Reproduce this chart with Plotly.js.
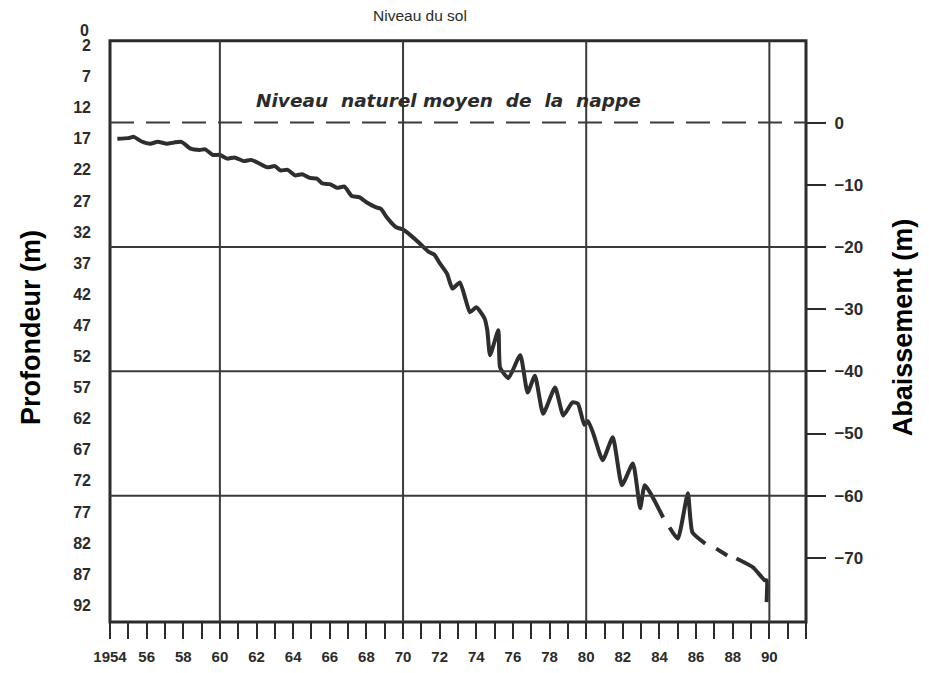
<!DOCTYPE html>
<html>
<head>
<meta charset="utf-8">
<script src="https://cdn.plot.ly/plotly-3.0.1.min.js"></script>
<style>html,body{margin:0;padding:0;background:#fff;}#chart{width:929px;height:673px;}</style>
</head>
<body>
<div id="chart"></div>
<script>
// ---- data ----
var years = [1954.4, 1955.0, 1955.3, 1955.7, 1956.2, 1956.6, 1957.1, 1957.5, 1957.9, 1958.4, 1958.9, 1959.2, 1959.6, 1960.0, 1960.4, 1960.8, 1961.3, 1961.7, 1962.1, 1962.6, 1963.0, 1963.3, 1963.7, 1964.1, 1964.5, 1964.9, 1965.3, 1965.6, 1966.0, 1966.4, 1966.8, 1967.2, 1967.6, 1968.0, 1968.5, 1968.8, 1969.1, 1969.6, 1970.0, 1970.4, 1970.9, 1971.4, 1971.7, 1972.0, 1972.4, 1972.7, 1973.1, 1973.4, 1973.65, 1974.0, 1974.45, 1974.6, 1974.75, 1975.2, 1975.3, 1975.75, 1976.4, 1976.8, 1977.2, 1977.65, 1978.3, 1978.75, 1979.25, 1979.55, 1979.9, 1980.1, 1980.4, 1980.9, 1981.45, 1981.95, 1982.55, 1982.95, 1983.2, 1984.2, null, 1984.55, 1985.0, 1985.55, 1985.8, 1986.5, null, 1987.1, 1987.7, null, 1988.2, 1989.1, 1989.75, 1989.85, 1989.85];
var depth = [17.0, 16.9, 16.7, 17.4, 17.8, 17.5, 17.8, 17.6, 17.5, 18.6, 18.8, 18.7, 19.6, 19.6, 20.2, 20.0, 20.6, 20.4, 20.9, 21.6, 21.4, 22.1, 22.0, 22.9, 22.7, 23.3, 23.4, 24.2, 24.3, 24.9, 24.7, 26.2, 26.4, 27.2, 28.0, 28.3, 29.6, 31.2, 31.6, 32.5, 33.8, 35.2, 35.6, 37.0, 38.7, 41.1, 40.1, 42.7, 44.9, 44.1, 45.9, 47.8, 51.8, 47.8, 53.8, 55.5, 51.8, 57.8, 55.1, 61.2, 57.0, 61.5, 59.4, 59.6, 63.0, 62.4, 64.5, 68.7, 65.0, 72.7, 69.2, 76.4, 72.7, 77.9, null, 79.5, 81.3, 74.0, 80.3, 82.1, null, 82.9, 84.0, null, 84.5, 85.9, 88.0, 88.0, 91.5];

var naturalLevelDepth = 14.4;           // depth (m) of "Niveau naturel moyen de la nappe"
var depthTicks = [0, 2, 7, 12, 17, 22, 27, 32, 37, 42, 47, 52, 57, 62, 67, 72, 77, 82, 87, 92];
var drawdownTicks = [0, -10, -20, -30, -40, -50, -60, -70];
var drawdownGrid = [-20, -40, -60];
var decadeGrid = [1960, 1970, 1980, 1990];
var yearLabelVals = [1954, 1956, 1958, 1960, 1962, 1964, 1966, 1968, 1970, 1972, 1974, 1976, 1978, 1980, 1982, 1984, 1986, 1988, 1990];
var yearLabelText = ["1954", "56", "58", "60", "62", "64", "66", "68", "70", "72", "74", "76", "78", "80", "82", "84", "86", "88", "90"];

var titleTop = "Niveau du sol";
var titleLevel = "Niveau  naturel moyen  de  la  nappe";
var titleLeft = "Profondeur (m)";
var titleRight = "Abaissement (m)";

// ---- chart ----
var ink = "#2b2b2b";
var fam = "Liberation Sans, Arial, sans-serif";
var depthRange = [94.7, 0];
var xRange = [1954, 1992];

var shapes = [];
// frame
shapes.push({type: "rect", xref: "paper", yref: "paper", x0: 0, x1: 1, y0: 0, y1: 0.987,
  line: {color: ink, width: 3}});
decadeGrid.forEach(function (yr) {
  shapes.push({type: "line", xref: "x", yref: "paper", x0: yr, x1: yr, y0: 0, y1: 0.987,
    line: {color: "#3a3a3a", width: 2}});
});
drawdownGrid.forEach(function (v) {
  shapes.push({type: "line", xref: "paper", yref: "y2", x0: 0, x1: 1, y0: v, y1: v,
    line: {color: "#3a3a3a", width: 2}});
});
shapes.push({type: "line", xref: "paper", yref: "y2", x0: 0, x1: 1, y0: 0, y1: 0,
  line: {color: "#3a3a3a", width: 2, dash: "24px,12px"}});

var traces = [{
  x: years, y: depth, type: "scatter", mode: "lines", connectgaps: false,
  line: {color: "#2e2e2e", width: 4, shape: "spline", smoothing: 0.5}, hoverinfo: "x+y", showlegend: false
}];

// the top depth label ("0") sits just above the frame, as an annotation so it does not collide with "2"
var depthLabelTicks = depthTicks.filter(function (v) { return v > 0; });
var depthTopLabel = depthTicks.filter(function (v) { return v === 0; });

var annotations = [
  {text: titleTop, xref: "paper", yref: "paper", x: 0.445, y: 1.029, yanchor: "middle", showarrow: false,
   font: {family: fam, size: 15.5, color: ink}},
  {text: "<b><i>" + titleLevel + "</i></b>", xref: "paper", yref: "paper", x: 0.486, y: 0.8846,
   yanchor: "middle", showarrow: false,
   font: {family: "DejaVu Sans, sans-serif", size: 18.5, color: ink}}
];
depthTopLabel.forEach(function (v) {
  annotations.push({text: "<b>" + v + "</b>", xref: "paper", yref: "y", x: -0.027, y: v, xanchor: "right",
    yanchor: "middle", yshift: 3, showarrow: false, font: {family: fam, size: 16, color: ink}});
});

var layout = {
  width: 929, height: 673,
  margin: {l: 110, r: 123, t: 33, b: 51},
  paper_bgcolor: "#ffffff", plot_bgcolor: "#ffffff",
  showlegend: false,
  xaxis: {
    range: xRange, tickmode: "array", tickvals: yearLabelVals, ticktext: yearLabelText,
    ticks: "outside", ticklen: 16, tickwidth: 2, tickcolor: ink,
    minor: {dtick: 1, tick0: 1954, ticks: "outside", ticklen: 16, tickwidth: 2, tickcolor: ink},
    showgrid: false, zeroline: false, showline: false,
    tickfont: {family: fam, size: 15, color: ink, weight: "bold"},
    ticklabelstandoff: 5
  },
  yaxis: {
    range: depthRange, tickmode: "array", tickvals: depthLabelTicks,
    ticks: "", showgrid: false, zeroline: false, showline: false,
    tickfont: {family: fam, size: 16, color: ink, weight: "bold"}, ticklabelstandoff: 18,
    title: {text: titleLeft, font: {family: fam, size: 27, color: "#000", weight: "bold"}, standoff: 24}
  },
  yaxis3: {
    range: depthRange, overlaying: "y", side: "left", tickmode: "array",
    tickvals: depthLabelTicks,
    ticks: "outside", ticklen: 14, tickwidth: 2, tickcolor: ink,
    showticklabels: false, showgrid: false, zeroline: false, showline: false
  },
  yaxis2: {
    range: [naturalLevelDepth - depthRange[0], naturalLevelDepth - depthRange[1]],
    overlaying: "y", side: "right", tickmode: "array", tickvals: drawdownTicks,
    ticks: "outside", ticklen: 19, tickwidth: 2, tickcolor: ink,
    showgrid: false, zeroline: false, showline: false,
    tickfont: {family: fam, size: 17, color: ink, weight: "bold"}, ticklabelstandoff: 5,
    title: {text: titleRight, font: {family: fam, size: 27, color: "#000", weight: "bold"}, standoff: 30}
  },
  shapes: shapes,
  annotations: annotations
};

Plotly.newPlot("chart", traces, layout, {displayModeBar: false, staticPlot: true});
</script>
</body>
</html>
